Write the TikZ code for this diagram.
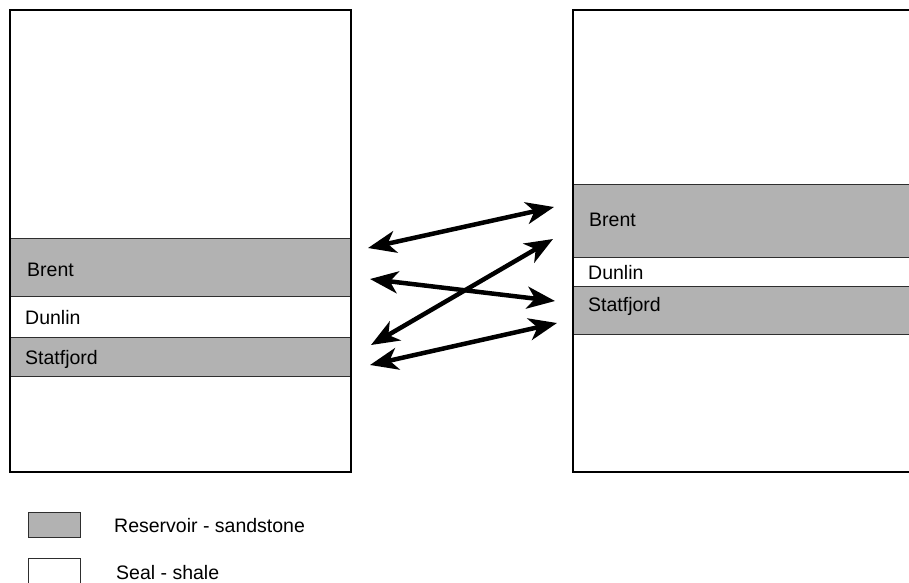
\documentclass[tikz,border=0pt]{standalone}
\usepackage{fontspec}
\setmainfont{Liberation Sans}
\usetikzlibrary{arrows.meta}
\definecolor{sand}{gray}{0.70}
\definecolor{edge}{gray}{0.18}
\tikzset{
  colbox/.style={draw=black,line width=1.1pt},
  band/.style={fill=sand,draw=edge,line width=1pt},
  lbl/.style={anchor=base west,inner sep=0pt,font=\fontsize{19.5}{22}\selectfont},
  link/.style={line width=4.5pt,{Stealth[length=28pt,width=22pt,inset=8pt]}-{Stealth[length=28pt,width=22pt,inset=8pt]}},
}
\begin{document}
\begin{tikzpicture}[x=1pt,y=-1pt]
\useasboundingbox (0,0) rectangle (909,582);
\clip (0,0) rectangle (909,582);
\fill[white] (0,0) rectangle (909,582);
% left column
\draw[band] (10,238) rectangle (351,296);
\draw[band] (10,337) rectangle (351,376);
\draw[colbox] (10,10) rectangle (351,472);
% right column
\draw[band] (573,184) rectangle (915,257);
\draw[band] (573,286) rectangle (915,334);
\draw[colbox] (915,10) -- (573,10) -- (573,472) -- (915,472);
% labels
\node[lbl] (lbrent) at (27,276) {Brent};
\node[lbl] (ldunlin) at (25,324) {Dunlin};
\node[lbl] (lstat) at (25,364) {Statfjord};
\node[lbl] (rbrent) at (589,226) {Brent};
\node[lbl] (rdunlin) at (588,279.5) {Dunlin};
\node[lbl] (rstat) at (588,311) {Statfjord};
% arrow end points
\coordinate (a1) at (368,248); \coordinate (b1) at (554,207);
\coordinate (a2) at (370,279); \coordinate (b2) at (555,301);
\coordinate (a3) at (371,345); \coordinate (b3) at (553,239);
\coordinate (a4) at (370,365); \coordinate (b4) at (557,323);
\draw[link] (a1) -- (b1);
\draw[link] (a2) -- (b2);
\draw[link] (a3) -- (b3);
\draw[link] (a4) -- (b4);
% legend
\draw[band] (28,512) rectangle (80,537);
\draw[colbox,line width=1pt,draw=edge] (28,558) rectangle (80,600);
\node[lbl] (lres) at (114,532.7) {Reservoir - sandstone};
\node[lbl] (lseal) at (116,579.3) {Seal - shale};
\end{tikzpicture}
\end{document}
